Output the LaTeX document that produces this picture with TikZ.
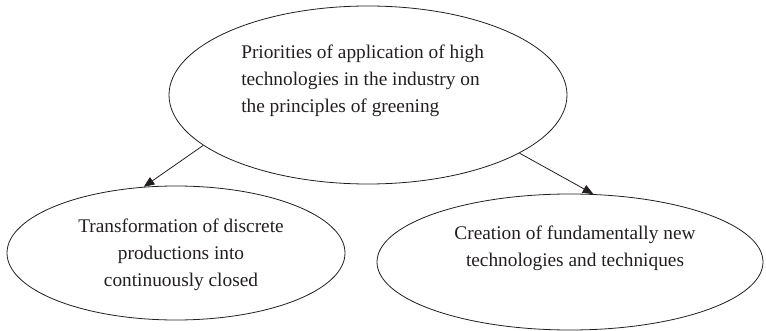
\documentclass[tikz,border=0pt]{standalone}
\usepackage{fontspec}
\setmainfont{Liberation Serif}
\usetikzlibrary{shapes.geometric,arrows.meta}
\definecolor{ink}{HTML}{231F20}
\tikzset{
  oval/.style={ellipse, draw=ink, line width=0.6pt, inner sep=0pt},
  label/.style={inner sep=0pt, text=ink, font=\fontsize{14.5}{20.25}\selectfont},
  link/.style={draw=ink, line width=0.6pt, -{Triangle[length=8pt,width=6.5pt]}}
}
\begin{document}
\begin{tikzpicture}[x=0.75pt,y=-0.75pt]
  \useasboundingbox (0,0) rectangle (766,331);

  % ellipses
  \node[oval, minimum width=298.5pt, minimum height=133.5pt] (top) at (368,95) {};
  \node[oval, minimum width=253.5pt, minimum height=100.5pt] (left) at (176,253) {};
  \node[oval, minimum width=289.5pt, minimum height=102pt] (right) at (570,262) {};

  % texts
  \node[label, anchor=west, align=left] (toptext) at (241,81)
    {Priorities of application of high\\technologies in the industry on\\the principles of greening};
  \node[label, align=center] (lefttext) at (181,255)
    {Transformation of discrete\\productions into\\continuously closed};
  \node[label, align=center] (righttext) at (575,248)
    {Creation of fundamentally new\\technologies and techniques};

  % connectors
  \draw[link] (top.197.7) -- (left.116);
  \draw[link] (top.-21.9) -- (right.71.8);
\end{tikzpicture}
\end{document}
